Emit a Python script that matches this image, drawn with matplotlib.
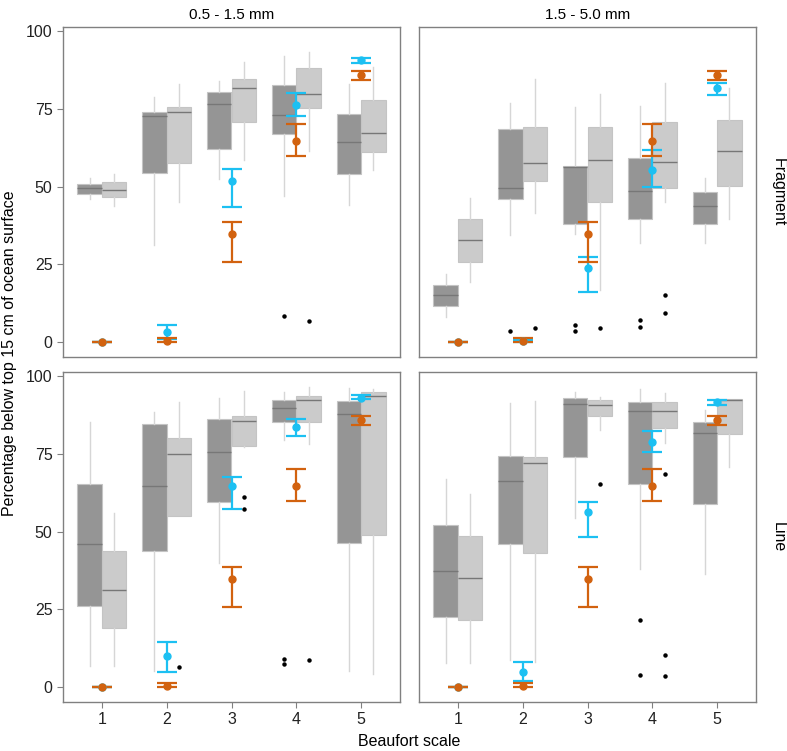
import matplotlib
matplotlib.use("Agg")
import matplotlib.pyplot as plt

plt.rcParams["font.family"] = ["Liberation Sans", "DejaVu Sans"]

# Beaufort scale categories
beaufort = [1, 2, 3, 4, 5]
size_classes = ["0.5 - 1.5 mm", "1.5 - 5.0 mm"]
shapes = ["Fragment", "Line"]

# box stats per level: (whisker low, q1, median, q3, whisker high)
frag_small_dark = [(45.9, 47.6, 49.4, 50.9, 52.7), (31.3, 54.5, 72.6, 74.1, 78.9),
                   (52.5, 62.2, 76.4, 80.5, 84.0), (47.0, 66.8, 73.0, 82.7, 91.9),
                   (44.1, 54.1, 64.2, 73.4, 82.9)]
frag_small_light = [(43.9, 46.5, 48.9, 51.4, 53.9), (45.0, 57.7, 73.9, 75.5, 83.0),
                    (58.4, 70.7, 81.7, 84.7, 89.9), (61.5, 75.1, 79.7, 88.2, 93.3),
                    (55.4, 61.2, 67.1, 77.8, 88.4)]
frag_large_dark = [(8.2, 11.7, 15.1, 18.3, 21.8), (34.3, 45.9, 49.5, 68.6, 76.9),
                   (34.7, 38.1, 56.4, 56.7, 75.7), (31.7, 39.7, 48.5, 59.2, 75.9),
                   (31.9, 37.9, 43.9, 48.2, 52.6)]
frag_large_light = [(19.2, 25.9, 32.8, 39.6, 46.4), (41.5, 51.7, 57.5, 69.0, 84.5),
                    (16.6, 45.1, 58.4, 69.1, 79.9), (45.0, 49.5, 57.8, 70.7, 83.4),
                    (39.6, 50.3, 61.3, 71.5, 81.6)]
line_small_dark = [(6.7, 26.2, 45.9, 65.4, 85.2), (5.2, 43.8, 64.5, 84.7, 88.3),
                   (39.8, 59.5, 75.5, 86.2, 92.8), (79.3, 85.1, 89.6, 92.4, 94.9),
                   (5.2, 46.4, 87.7, 91.9, 96.0)]
line_small_light = [(6.7, 19.0, 31.2, 43.6, 55.9), (54.9, 54.9, 74.8, 80.2, 91.6),
                    (77.1, 77.6, 85.4, 87.0, 95.1), (78.3, 85.1, 92.2, 93.6, 96.5),
                    (4.2, 48.8, 93.5, 94.9, 95.8)]
line_large_dark = [(7.8, 22.6, 37.3, 52.0, 66.8), (8.6, 46.1, 66.4, 74.4, 91.4),
                   (54.3, 74.1, 90.9, 92.8, 94.8), (38.1, 65.4, 88.7, 91.8, 95.7),
                   (36.5, 59.0, 81.6, 85.3, 89.1)]
line_large_light = [(7.8, 21.5, 35.0, 48.6, 62.2), (8.2, 43.0, 71.9, 73.9, 92.0),
                    (82.8, 87.3, 90.7, 92.3, 93.3), (78.6, 83.4, 88.7, 91.8, 94.5),
                    (70.6, 81.5, 92.2, 92.5, 92.5)]

# outliers per level
frag_small_dark_out = [[], [], [], [8.4], []]
frag_small_light_out = [[], [], [], [6.9], []]
frag_large_dark_out = [[], [3.7], [5.4, 3.6], [7.0, 4.9], []]
frag_large_light_out = [[], [4.6], [4.4], [15.0, 9.3], []]
line_small_dark_out = [[], [], [], [9.1, 7.3], []]
line_small_light_out = [[], [6.3], [61.2, 57.2], [8.6], []]
line_large_dark_out = [[], [], [], [21.7, 3.9], []]
line_large_light_out = [[], [], [65.4], [68.5, 10.3, 3.5], []]

# blue estimates with intervals
frag_small_blue = [0.0, 3.2, 51.9, 76.2, 90.8]
frag_small_blue_lo = [0.0, 1.1, 43.3, 72.8, 89.6]
frag_small_blue_hi = [0.0, 5.6, 55.5, 80.1, 91.4]
frag_large_blue = [0.0, 0.2, 23.9, 55.4, 81.7]
frag_large_blue_lo = [0.0, 0.0, 16.2, 49.9, 79.4]
frag_large_blue_hi = [0.0, 0.6, 27.5, 61.8, 83.2]
line_small_blue = [0.0, 10.1, 64.7, 83.5, 93.1]
line_small_blue_lo = [0.0, 5.0, 57.3, 80.8, 92.5]
line_small_blue_hi = [0.0, 14.5, 67.6, 86.3, 93.8]
line_large_blue = [0.0, 4.9, 56.4, 78.9, 91.8]
line_large_blue_lo = [0.0, 2.0, 48.1, 75.7, 90.7]
line_large_blue_hi = [0.0, 7.9, 59.6, 82.4, 92.4]

# orange estimates (same in every panel)
orange = [0.0, 0.5, 34.8, 64.7, 86.0]
orange_lo = [0.0, 0.0, 25.9, 59.9, 84.3]
orange_hi = [0.0, 1.3, 38.7, 70.0, 87.3]

panels = [
    (frag_small_dark, frag_small_light, frag_small_dark_out, frag_small_light_out,
     frag_small_blue, frag_small_blue_lo, frag_small_blue_hi),
    (frag_large_dark, frag_large_light, frag_large_dark_out, frag_large_light_out,
     frag_large_blue, frag_large_blue_lo, frag_large_blue_hi),
    (line_small_dark, line_small_light, line_small_dark_out, line_small_light_out,
     line_small_blue, line_small_blue_lo, line_small_blue_hi),
    (line_large_dark, line_large_light, line_large_dark_out, line_large_light_out,
     line_large_blue, line_large_blue_lo, line_large_blue_hi),
]

DARK = "#959595"
LIGHT = "#cbcbcb"
BLUE = "#1cc0f2"
ORANGE = "#d2620f"
FRAME = "#808080"


def make_stats(rows, outs):
    stats = []
    for (lo, q1, med, q3, hi), fl in zip(rows, outs):
        stats.append(dict(whislo=lo, q1=q1, med=med, q3=q3, whishi=hi, fliers=fl))
    return stats


fig = plt.figure(figsize=(7.87, 7.51), dpi=100)
lefts = [63 / 787, 419 / 787]
width = 337 / 787
bottoms = [1 - 357 / 751, 1 - 702 / 751]
height = 330 / 751

for i, p in enumerate(panels):
    row, col = divmod(i, 2)
    ax = fig.add_axes([lefts[col], bottoms[row], width, height])
    dark, light, dark_out, light_out, blue, blue_lo, blue_hi = p

    for rows, outs, shift, color in [(dark, dark_out, -0.19, DARK),
                                     (light, light_out, 0.19, LIGHT)]:
        ax.bxp(make_stats(rows, outs), positions=[b + shift for b in beaufort],
               widths=0.375, patch_artist=True, showcaps=False,
               boxprops=dict(facecolor=color, edgecolor="#c4c4c4", linewidth=0.8),
               whiskerprops=dict(color="#d6d6d6", linewidth=1.0),
               medianprops=dict(color="#777777", linewidth=1.0),
               flierprops=dict(marker="o", markersize=2.2, markerfacecolor="black",
                               markeredgecolor="black"),
               manage_ticks=False)

    for vals, lo, hi, color in [(blue, blue_lo, blue_hi, BLUE),
                                (orange, orange_lo, orange_hi, ORANGE)]:
        yerr = [[v - l for v, l in zip(vals, lo)], [h - v for v, h in zip(vals, hi)]]
        ax.errorbar(beaufort, vals, yerr=yerr, fmt="o", color=color, markersize=5,
                    elinewidth=1.6, capsize=7, capthick=1.6, zorder=5)

    ax.set_xlim(0.4, 5.6)
    ax.set_ylim(-4.8, 101.3)
    ax.set_xticks(beaufort)
    ax.set_yticks([0, 25, 50, 75, 100])
    for s in ax.spines.values():
        s.set_color(FRAME)
        s.set_linewidth(1.0)
    ax.tick_params(colors=FRAME, labelcolor="#222222", labelsize=11.5, length=4)
    if col == 1:
        ax.tick_params(axis="y", left=False, labelleft=False)
    if row == 0:
        ax.tick_params(axis="x", bottom=False, labelbottom=False)
        ax.set_title(size_classes[col], fontsize=11, pad=6)
    if col == 1:
        ax.text(1.065, 0.5, shapes[row], transform=ax.transAxes, rotation=-90,
                ha="center", va="center", fontsize=11.5)

fig.text(0.012, 0.53, "Percentage below top 15 cm of ocean surface", rotation=90,
         ha="center", va="center", fontsize=11.5)
fig.text(0.52, 0.012, "Beaufort scale", ha="center", va="center", fontsize=11.5)

fig.savefig("out.png", dpi=100)
